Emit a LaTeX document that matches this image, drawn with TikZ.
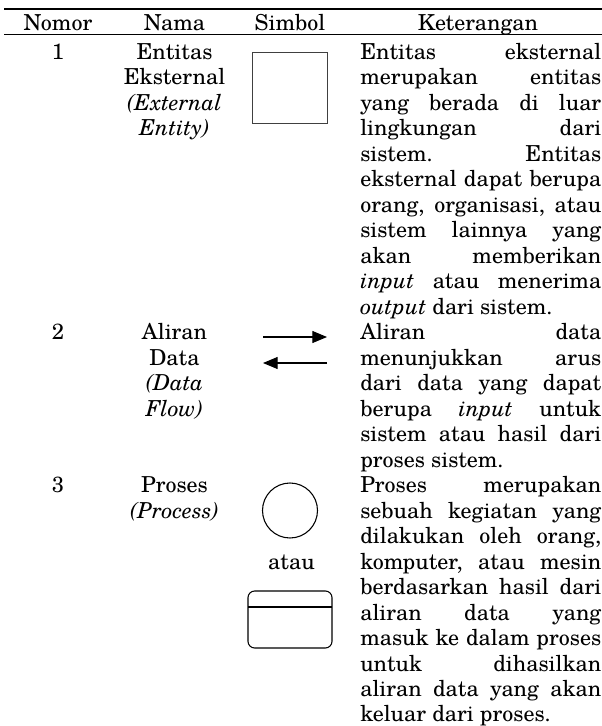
\documentclass[tikz,border=0pt]{standalone}
\usepackage{fontspec}
\setmainfont{TeX Gyre Schola}
\usetikzlibrary{arrows.meta}
\newcommand\jline[1]{\makebox[180.75pt][s]{#1}}
\begin{document}
\begin{tikzpicture}[x=0.75pt,y=-0.75pt,
  every node/.style={inner sep=0pt,font=\fontsize{16.5pt}{19pt}\selectfont\frenchspacing},
  cell/.style={anchor=base},
  ket/.style={anchor=base west},
  tablerule/.style={line width=1pt},
  entitybox/.style={draw=black!75,line width=0.6pt},
  flowarrow/.style={line width=0.8pt,-{Triangle[length=11pt,width=9pt]}},
  procshape/.style={draw,line width=0.8pt}]
\useasboundingbox (0,0) rectangle (602,726);
% rules
\coordinate (tl) at (4,9); \coordinate (tr) at (602,9);
\coordinate (ml) at (4,34.7); \coordinate (mr) at (602,34.7);
\draw[tablerule] (tl) -- (tr);
\draw[tablerule] (ml) -- (mr);
% header
\node[cell] (hnomor) at (58,30.2) {Nomor};
\node[cell] (hnama) at (174.5,30.2) {Nama};
\node[cell] (hsimbol) at (290,30.2) {Simbol};
\node[cell] (hket) at (478,30.2) {Keterangan};
% row 1
\node[cell] (n1) at (58,59) {1};
\node[cell] (nama1a) at (174.5,59) {Entitas};
\node[cell] (nama1b) at (174.5,84.5) {Eksternal};
\node[cell] (nama1c) at (174.5,110) {\textit{(External}};
\node[cell] (nama1d) at (174.5,135.5) {\textit{Entity)}};
\node[entitybox,minimum width=56.25pt,minimum height=53.25pt,anchor=north west] (sym1) at (252,52) {};
\node[ket] (k1) at (360,59) {\jline{Entitas eksternal}};
\node[ket] (k2) at (360,84.5) {\jline{merupakan entitas}};
\node[ket] (k3) at (360,110) {\jline{yang berada di luar}};
\node[ket] (k4) at (360,135.5) {\jline{lingkungan dari}};
\node[ket] (k5) at (360,161) {\jline{sistem. Entitas}};
\node[ket] (k6) at (360,186.5) {\jline{eksternal dapat berupa}};
\node[ket] (k7) at (360,212) {\jline{orang, organisasi, atau}};
\node[ket] (k8) at (360,237.5) {\jline{sistem lainnya yang}};
\node[ket] (k9) at (360,263) {\jline{akan memberikan}};
\node[ket] (k10) at (360,288.5) {\jline{\textit{input} atau menerima}};
\node[ket] (k11) at (360,314) {\textit{output} dari sistem.};
% row 2
\node[cell] (n2) at (58,339.5) {2};
\node[cell] (nama2a) at (174.5,339.5) {Aliran};
\node[cell] (nama2b) at (174.5,365) {Data};
\node[cell] (nama2c) at (174.5,390.5) {\textit{(Data}};
\node[cell] (nama2d) at (174.5,416) {\textit{Flow)}};
\coordinate (ar1s) at (263,337); \coordinate (ar1e) at (327,337);
\coordinate (ar2s) at (327,363); \coordinate (ar2e) at (263,363);
\draw[flowarrow] (ar1s) -- (ar1e);
\draw[flowarrow] (ar2s) -- (ar2e);
\node[ket] (k12) at (360,339.5) {\jline{Aliran data}};
\node[ket] (k13) at (360,365) {\jline{menunjukkan arus}};
\node[ket] (k14) at (360,390.5) {\jline{dari data yang dapat}};
\node[ket] (k15) at (360,416) {\jline{berupa \textit{input} untuk}};
\node[ket] (k16) at (360,441.5) {\jline{sistem atau hasil dari}};
\node[ket] (k17) at (360,467) {proses sistem.};
% row 3
\node[cell] (n3) at (58,492.5) {3};
\node[cell] (nama3a) at (174.5,492.5) {Proses};
\node[cell] (nama3b) at (174.5,518) {\textit{(Process)}};
\draw[procshape] (290,510.5) circle[radius=27.5];
\node[cell] (atau) at (291.5,569) {atau};
\draw[procshape,rounded corners=5pt] (248,591) rectangle (332,648);
\coordinate (pl) at (248,607); \coordinate (pr) at (332,607);
\draw[procshape] (pl) -- (pr);
\node[ket] (k18) at (360,492.5) {\jline{Proses merupakan}};
\node[ket] (k19) at (360,518) {\jline{sebuah kegiatan yang}};
\node[ket] (k20) at (360,543.5) {\jline{dilakukan oleh orang,}};
\node[ket] (k21) at (360,569) {\jline{komputer, atau mesin}};
\node[ket] (k22) at (360,594.5) {\jline{berdasarkan hasil dari}};
\node[ket] (k23) at (360,620) {\jline{aliran data yang}};
\node[ket] (k24) at (360,645.5) {\jline{masuk ke dalam proses}};
\node[ket] (k25) at (360,671) {\jline{untuk dihasilkan}};
\node[ket] (k26) at (360,696.5) {\jline{aliran data yang akan}};
\node[ket] (k27) at (360,721.5) {keluar dari proses.};
\end{tikzpicture}
\end{document}
